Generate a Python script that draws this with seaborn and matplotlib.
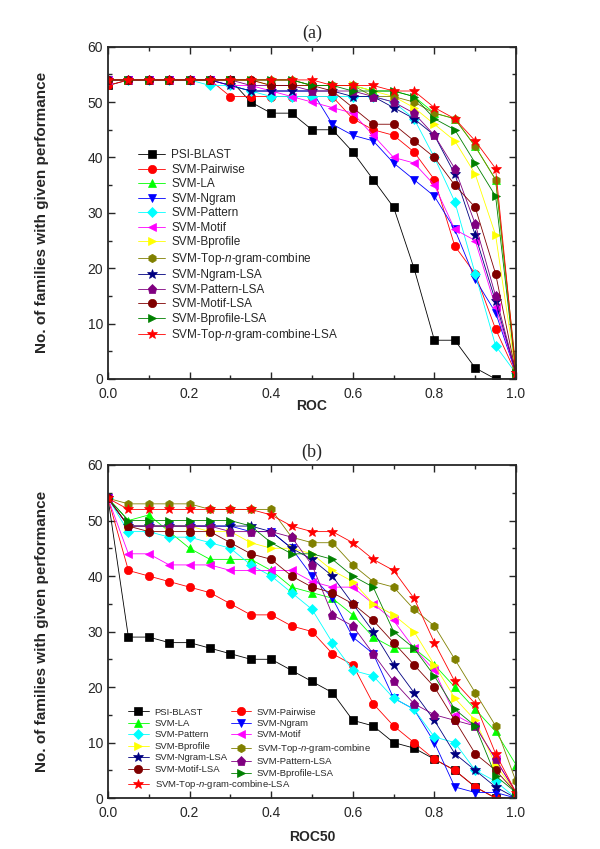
import numpy as np
import pandas as pd
import matplotlib
matplotlib.use("Agg")
import matplotlib.pyplot as plt
import seaborn as sns

roc_x = [0.0, 0.05, 0.1, 0.15, 0.2, 0.25, 0.3, 0.35, 0.4, 0.45, 0.5,
         0.55, 0.6, 0.65, 0.7, 0.75, 0.8, 0.85, 0.9, 0.95, 1.0]

names = ["PSI-BLAST", "SVM-Pairwise", "SVM-LA", "SVM-Ngram", "SVM-Pattern",
         "SVM-Motif", "SVM-Bprofile", r"SVM-Top-$\it{n}$-gram-combine",
         "SVM-Ngram-LSA", "SVM-Pattern-LSA", "SVM-Motif-LSA",
         "SVM-Bprofile-LSA", r"SVM-Top-$\it{n}$-gram-combine-LSA"]

# Panel (a): ROC
a_psi      = [53,54,54,54,54,54,54,50,48,48,45,45,41,36,31,20,7,7,2,0,0]
a_pairwise = [53,54,54,54,54,54,51,51,51,51,51,51,47,45,44,41,36,24,19,9,1]
a_la       = [54,54,54,54,54,54,54,54,54,54,53,53,53,52,52,51,48,47,42,36,1]
a_ngram    = [54,54,54,54,54,54,53,52,52,52,52,46,44,43,39,36,33,27,18,12,1]
a_pattern  = [54,54,54,54,54,53,53,52,51,51,51,51,51,51,50,47,40,32,19,6,1]
a_motif    = [54,54,54,54,54,54,53,53,52,51,50,49,48,44,40,39,35,27,25,13,1]
a_bprofile = [54,54,54,54,54,54,54,54,53,53,53,53,53,52,51,49,46,43,37,26,1]
a_topn     = [54,54,54,54,54,54,54,54,54,54,53,53,53,51,51,50,48,47,42,36,2]
a_ngram_lsa   = [54,54,54,54,54,54,53,52,52,52,52,52,51,51,49,47,44,37,26,14,1]
a_pattern_lsa = [54,54,54,54,54,54,54,53,53,53,52,52,52,51,50,48,44,38,28,15,1]
a_motif_lsa   = [54,54,54,54,54,54,54,54,53,53,53,52,49,46,46,43,40,35,31,19,1]
a_bprof_lsa   = [54,54,54,54,54,54,54,54,54,54,53,53,52,52,52,51,47,45,39,33,1]
a_topn_lsa    = [54,54,54,54,54,54,54,54,54,54,54,53,53,53,52,52,49,47,43,38,1]

# Panel (b): ROC50
b_psi      = [54,29,29,28,28,27,26,25,25,23,21,19,14,13,10,9,7,5,2,0,0]
b_pairwise = [54,41,40,39,38,37,35,33,33,31,30,26,24,17,13,10,7,5,2,0,0]
b_la       = [54,50,51,48,45,43,43,43,41,38,37,36,33,29,27,27,24,20,16,12,6]
b_ngram    = [54,49,49,49,49,49,49,48,48,45,40,36,29,26,18,16,10,2,1,1,0]
b_pattern  = [54,48,48,47,47,46,45,42,40,37,34,28,23,22,18,16,11,10,5,3,0]
b_motif    = [54,44,44,42,42,42,41,41,41,41,39,38,38,35,32,27,23,15,13,7,1]
b_bprofile = [54,49,49,49,49,48,48,46,45,45,44,41,39,35,33,30,24,18,14,6,1]
b_topn     = [54,53,53,53,53,52,52,52,52,47,46,46,42,39,38,34,31,25,19,13,3]
b_ngram_lsa   = [54,49,49,49,49,49,49,49,48,45,43,40,35,30,24,19,14,8,5,2,0]
b_pattern_lsa = [54,49,49,49,49,49,48,48,48,47,42,33,31,26,21,17,15,14,13,7,1]
b_motif_lsa   = [54,49,48,48,48,48,46,44,43,40,38,37,35,32,28,24,20,14,8,5,1]
b_bprof_lsa   = [54,50,50,50,50,50,50,49,46,44,44,43,40,38,30,27,22,16,13,4,1]
b_topn_lsa    = [54,52,52,52,52,52,52,52,51,49,48,48,46,43,41,36,28,21,17,8,1]

panel_a = [a_psi, a_pairwise, a_la, a_ngram, a_pattern, a_motif, a_bprofile,
           a_topn, a_ngram_lsa, a_pattern_lsa, a_motif_lsa, a_bprof_lsa, a_topn_lsa]
panel_b = [b_psi, b_pairwise, b_la, b_ngram, b_pattern, b_motif, b_bprofile,
           b_topn, b_ngram_lsa, b_pattern_lsa, b_motif_lsa, b_bprof_lsa, b_topn_lsa]

colors = ["#000000", "#FF0000", "#00FF00", "#0000FF", "#00FFFF", "#FF00FF",
          "#FFFF00", "#808000", "#000080", "#800080", "#800000", "#008000", "#FF0000"]
markers = ["s", "o", "^", "v", "D", "<", ">", "h", "*", "p", "o", ">", "*"]
msizes = [5.5, 6, 6, 6, 5, 6, 6, 6, 7, 6.5, 6, 6, 7]

sns.set_style("ticks")
plt.rcParams["font.family"] = ["Liberation Sans", "DejaVu Sans"]
plt.rcParams["mathtext.fontset"] = "custom"
plt.rcParams["mathtext.it"] = "Liberation Sans:italic"
plt.rcParams["mathtext.rm"] = "Liberation Sans"

fig = plt.figure(figsize=(6.0, 8.49), dpi=100)
ax_a = fig.add_axes([0.18, 0.5536, 0.68, 0.3914])
ax_b = fig.add_axes([0.18, 0.0600, 0.68, 0.3923])


def draw(ax, data):
    for name, vals, c, m, ms in zip(names, data, colors, markers, msizes):
        df = pd.DataFrame({"x": roc_x, "y": vals})
        sns.lineplot(data=df, x="x", y="y", ax=ax, color=c, marker=m,
                     markersize=ms, markeredgecolor=c, markeredgewidth=0.5,
                     linewidth=0.6, label=name, errorbar=None, sort=False)
    ax.set_xlim(0, 1.0)
    ax.set_ylim(0, 60)
    ax.set_xticks(np.arange(0, 1.01, 0.2))
    ax.set_xticks(np.arange(0, 1.01, 0.1), minor=True)
    ax.set_yticks(np.arange(0, 61, 10))
    ax.set_yticks(np.arange(0, 61, 5), minor=True)
    ax.set_xticklabels(["0.0", "0.2", "0.4", "0.6", "0.8", "1.0"])
    ax.tick_params(which="both", direction="in", top=True, right=True,
                   labelsize=10, width=1.0)
    ax.tick_params(axis="x", which="major", pad=6)
    ax.tick_params(which="major", length=5)
    ax.tick_params(which="minor", length=3)
    for s in ax.spines.values():
        s.set_linewidth(1.3)
    ax.set_ylabel("No. of families with given performance", fontsize=11,
                  fontweight="bold", labelpad=28)


draw(ax_a, panel_a)
draw(ax_b, panel_b)

ax_a.set_xlabel("ROC", fontsize=10, fontweight="bold", labelpad=-2)
ax_b.set_xlabel("ROC50", fontsize=10, fontweight="bold", labelpad=7)
ax_a.set_title("(a)", fontsize=13, family=["Liberation Serif"], pad=6)
ax_b.set_title("(b)", fontsize=13, family=["Liberation Serif"], pad=6)

h, l = ax_a.get_legend_handles_labels()
ax_a.legend(h, l, loc="upper left", bbox_to_anchor=(0.062, 0.705), frameon=False,
            fontsize=8.5, handlelength=2.3, labelspacing=0.21, borderaxespad=0,
            handletextpad=0.5)

h, l = ax_b.get_legend_handles_labels()
order = [0, 2, 4, 6, 8, 10, 1, 3, 5, 7, 9, 11]
leg1 = ax_b.legend([h[i] for i in order], [l[i] for i in order], loc="upper left",
                   bbox_to_anchor=(0.04, 0.283), ncol=2, frameon=False, fontsize=6.8,
                   handlelength=2.2, labelspacing=0.26, columnspacing=0.3,
                   borderaxespad=0, handletextpad=0.6)
ax_b.add_artist(leg1)
ax_b.legend([h[12]], [l[12]], loc="upper left", bbox_to_anchor=(0.04, 0.072),
            frameon=False, fontsize=6.8, handlelength=2.2, borderaxespad=0,
            handletextpad=0.6)

fig.savefig("out.png", dpi=100)
